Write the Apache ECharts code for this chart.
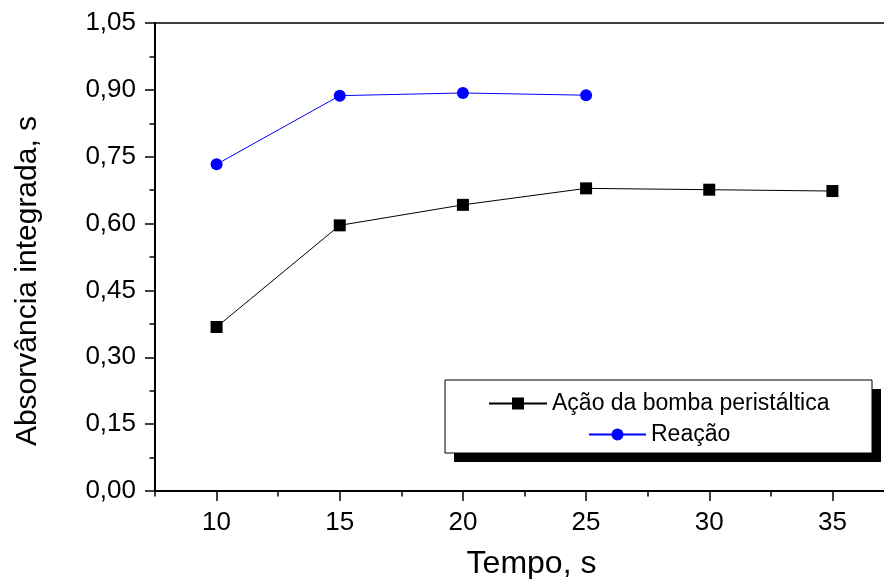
<!DOCTYPE html>
<html>
<head>
<meta charset="utf-8">
<script src="https://cdn.jsdelivr.net/npm/echarts@6/dist/echarts.min.js"></script>
<style>
  html, body { margin: 0; padding: 0; background: #fff; }
  #chart { width: 884px; height: 579px; }
</style>
</head>
<body>
<div id="chart"></div>
<script>
const tempo = [10, 15, 20, 25, 30, 35]
const bomba = [0.368, 0.596, 0.642, 0.679, 0.676, 0.673]
const reacao = [0.733, 0.887, 0.893, 0.888]
const xMajor = [10, 15, 20, 25, 30, 35]
const xMinor = [7.5, 12.5, 17.5, 22.5, 27.5, 32.5, 37.5]

const font = 'Liberation Sans, Arial, sans-serif'
const chart = echarts.init(document.getElementById('chart'))

const pairs = (xs, ys) => ys.map((y, i) => [xs[i], y])

const option = {
  animation: false,
  textStyle: { fontFamily: font, color: '#000' },
  grid: { left: 155, top: 23, bottom: 88, width: 739, outerBoundsMode: 'none', containLabel: false },
  graphic: [
    { type: 'rect', shape: { x: 454, y: 389, width: 427, height: 73 }, style: { fill: '#000' }, z: 10 },
    { type: 'rect', shape: { x: 445, y: 380, width: 427, height: 73 }, style: { fill: '#fff', stroke: '#000', lineWidth: 1 }, z: 11 }
  ],
  legend: [
    {
      data: ['Ação da bomba peristáltica'],
      left: 483, top: 387, itemWidth: 58, itemHeight: 15, z: 20,
      textStyle: { fontFamily: font, fontSize: 23, color: '#000' }
    },
    {
      data: ['Reação'],
      left: 583, top: 418, itemWidth: 57, itemHeight: 15, z: 20,
      textStyle: { fontFamily: font, fontSize: 23, color: '#000' }
    }
  ],
  xAxis: [
    {
      type: 'value', position: 'bottom', min: 7.5, max: 37.5,
      name: 'Tempo, s', nameLocation: 'middle', nameGap: 57,
      nameTextStyle: { fontFamily: font, fontSize: 32, color: '#000', padding: [0, 0, 0, 14] },
      splitLine: { show: false },
      axisLine: { lineStyle: { color: '#000', width: 2 } },
      axisTick: { customValues: xMajor, length: 10, lineStyle: { color: '#000', width: 1.5 } },
      axisLabel: { customValues: xMajor, fontFamily: font, fontSize: 26, color: '#000', margin: 19 }
    },
    {
      type: 'value', position: 'bottom', min: 7.5, max: 37.5,
      splitLine: { show: false },
      axisLine: { show: false },
      axisTick: { customValues: xMinor, length: 5.5, lineStyle: { color: '#000', width: 1.5 } },
      axisLabel: { show: false }
    },
    {
      type: 'value', position: 'top', min: 7.5, max: 37.5,
      splitLine: { show: false },
      axisLine: { lineStyle: { color: '#000', width: 1.5 } },
      axisTick: { show: false },
      axisLabel: { show: false }
    }
  ],
  yAxis: {
    type: 'value', min: 0, max: 1.05, interval: 0.15,
    name: 'Absorvância integrada, s', nameLocation: 'middle', nameGap: 112,
    nameTextStyle: { fontFamily: font, fontSize: 30, color: '#000', padding: [0, 48, 0, 0] },
    splitLine: { show: false },
    axisLine: { show: true, lineStyle: { color: '#000', width: 2 } },
    axisTick: { show: true, length: 10, lineStyle: { color: '#000', width: 1.5 } },
    minorTick: { show: true, splitNumber: 2, length: 5.5, lineStyle: { color: '#000', width: 1.5 } },
    axisLabel: {
      fontFamily: font, fontSize: 26, color: '#000', margin: 19,
      formatter: (v) => v.toFixed(2).replace('.', ',')
    }
  },
  series: [
    {
      name: 'Ação da bomba peristáltica', type: 'line',
      data: pairs(tempo, bomba),
      symbol: 'rect', symbolSize: 12,
      itemStyle: { color: '#000' },
      lineStyle: { color: '#000', width: 1 }
    },
    {
      name: 'Reação', type: 'line',
      data: pairs(tempo, reacao),
      symbol: 'circle', symbolSize: 12,
      itemStyle: { color: '#0000ff' },
      lineStyle: { color: '#0000ff', width: 1 }
    }
  ]
}

chart.setOption(option)
</script>
</body>
</html>
